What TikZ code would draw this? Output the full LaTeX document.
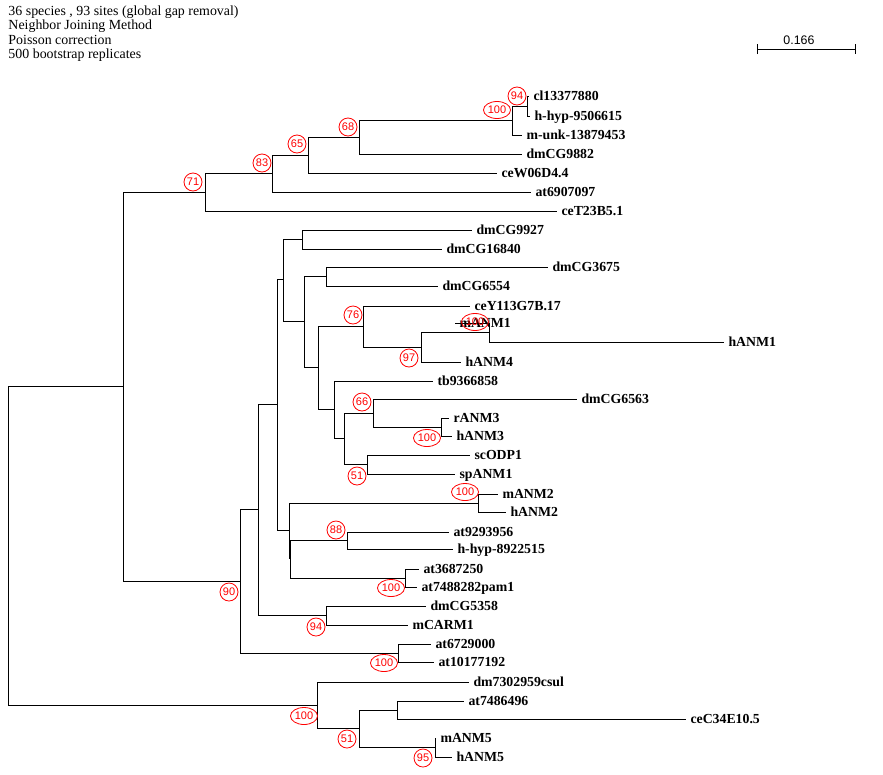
\documentclass[tikz,border=0pt]{standalone}
\usepackage{fontspec}
\setmainfont{Liberation Serif}
\setsansfont{Liberation Sans}
\usetikzlibrary{shapes.geometric,arrows.meta}
\tikzset{
  leaf/.style={anchor=west, inner xsep=4pt, inner ysep=0pt, text height=9.5pt, text depth=0pt, font=\fontsize{13.8}{16}\selectfont\bfseries},
  boot/.style={ellipse, draw=red, text=red, line width=0.8pt, inner sep=0pt, minimum width=18pt, minimum height=18pt, font=\sffamily\fontsize{11}{13}\selectfont},
  bootw/.style={boot, minimum width=27pt, minimum height=17pt},
  hdr/.style={anchor=base west, inner sep=0pt, font=\fontsize{13.9}{15}\selectfont},
  scl/.style={anchor=base, inner sep=0pt, font=\sffamily\fontsize{12.4}{14}\selectfont}
}
\begin{document}
\begin{tikzpicture}[x=1pt,y=-1pt,line width=1pt]
\fill[white] (0,0) rectangle (883,774);
\useasboundingbox (0,0) rectangle (883,774);
\foreach \t [count=\i] in {{36 species , 93 sites (global gap removal)},Neighbor Joining Method,Poisson correction,500 bootstrap replicates}
  \node[hdr] (hdr\i) at (8,{0.5+14.5*\i}) {\t};

\coordinate (sbL) at (757,49);
\coordinate (sbR) at (856,49);
\draw[{Bar[width=10pt]}-{Bar[width=10pt]}] (sbL) -- (sbR);
\node[scl] (sblbl) at (799,44) {0.166};

\coordinate (root) at (8,545);
\coordinate (nA) at (123,386.5);
\coordinate (n71) at (205,192);
\coordinate (n83) at (272,173.5);
\coordinate (n65) at (308,155);
\coordinate (n68) at (359,137);
\coordinate (n100a) at (512,120.5);
\coordinate (n94a) at (527,106);
\coordinate (n90) at (240,581);
\coordinate (nC) at (258,509.5);
\coordinate (nD) at (277,404.5);
\coordinate (nE) at (283,279.5);
\coordinate (nG) at (302,239.5);
\coordinate (nH) at (304,321.5);
\coordinate (nI) at (326,276.5);
\coordinate (nJ) at (318,367.5);
\coordinate (n76) at (363,326.5);
\coordinate (n97) at (421,347.5);
\coordinate (n100b) at (489,332.5);
\coordinate (nK) at (334,409.5);
\coordinate (nL) at (344,438.5);
\coordinate (n66) at (373,413);
\coordinate (n100c) at (441,427);
\coordinate (n51a) at (367,464.5);
\coordinate (nF) at (289,530);
\coordinate (n100e) at (478,503);
\coordinate (nM) at (290,558.5);
\coordinate (n88) at (347,540.5);
\coordinate (n100f) at (405,578);
\coordinate (n94b) at (326,615.5);
\coordinate (n100d) at (398,653);
\coordinate (nB) at (317,705);
\coordinate (n51b) at (359,728.5);
\coordinate (nN) at (397,710);
\coordinate (n95) at (435,747.5);

\foreach \a/\b in {root/nA,root/nB,nA/n71,nA/n90,n71/n83,n83/n65,n65/n68,n68/n100a,n100a/n94a,
    n90/nC,n90/n100d,nC/nD,nC/n94b,nD/nE,nD/nF,nE/nG,nE/nH,nH/nI,nH/nJ,nJ/n76,nJ/nK,n76/n97,
    n97/n100b,nK/nL,nL/n66,nL/n51a,n66/n100c,nF/n100e,nF/nM,nM/n88,nM/n100f,nB/n51b,n51b/nN,n51b/n95}
  \draw (\a) |- (\b);

\foreach \nm/\up/\x/\y/\txt in {cl/n94a/529/96/cl13377880, hhypA/n94a/530/116/h-hyp-9506615,
    munk/n100a/522/135/m-unk-13879453, dmCGa/n68/522/154/dmCG9882, ceW/n65/497/173/ceW06D4.4,
    atA/n83/531/192/at6907097, ceT/n71/557/211/ceT23B5.1, dmCGb/nG/472/230/dmCG9927,
    dmCGc/nG/442/249/dmCG16840, dmCGd/nI/548/267/dmCG3675, dmCGe/nI/438/286/dmCG6554,
    ceY/n76/470/306/ceY113G7B.17, mANMa/n100b/455/323/mANM1, hANMa/n100b/724/342/hANM1,
    hANMd/n97/461/362/hANM4, tb/nK/433/381/tb9366858, dmCGf/n66/577/399/dmCG6563,
    rANMc/n100c/449/418/rANM3, hANMc/n100c/452/436/hANM3, scO/n51a/470/455/scODP1,
    spA/n51a/455/474/spANM1, mANMb/n100e/498/494/mANM2, hANMb/n100e/506/512/hANM2,
    atB/n88/449/532/at9293956, hhypB/n88/453/549/h-hyp-8922515, atC/n100f/419/569/at3687250,
    atD/n100f/417/587/at7488282pam1, dmCGg/n94b/426/606/dmCG5358, mCA/n94b/408/625/mCARM1,
    atE/n100d/431/644/at6729000, atF/n100d/434/662/at10177192, dmcs/nB/469/682/dm7302959csul,
    atG/nN/464/701/at7486496, ceC/nN/686/719/ceC34E10.5, mANMe/n95/436/738/mANM5,
    hANMe/n95/452/757/hANM5}
{
  \node[leaf] (\nm) at (\x,\y) {\txt};
  \draw (\up) |- (\nm.west);
}

\foreach \nm/\v/\x/\y in {b71/71/193/182, b83/83/262/163, b65/65/297/144, b68/68/348/127,
    b94a/94/517/96, b76/76/353/315, b97/97/409/358, b66/66/362/402, b51a/51/357/476,
    b88/88/336/530, b90/90/229/592, b94b/94/316/627, b51b/51/347/739, b95/95/423/758}
  \node[boot] (\nm) at (\x,\y) {\v};
\foreach \nm/\x/\y in {c100a/497/110, c100b/475/322, c100c/427/438, c100e/465/492,
    c100f/391/588, c100d/384/663, c100g/304/716}
  \node[bootw] (\nm) at (\x,\y) {100};
\end{tikzpicture}
\end{document}
